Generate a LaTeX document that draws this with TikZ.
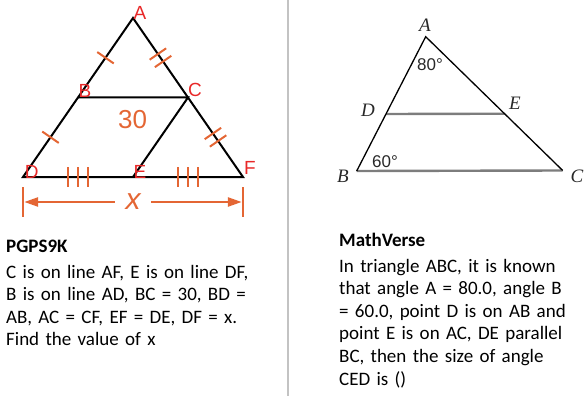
\documentclass[tikz,border=0pt]{standalone}
\usepackage{fontspec}
\setmainfont{Carlito}
\newfontfamily\figsans{Liberation Sans}
\newfontfamily\figserif{Liberation Serif}
\usepackage{xcolor}
\usepackage{tikz}
\usetikzlibrary{arrows.meta, positioning, calc}
\definecolor{GeoRed}{RGB}{232, 40, 40}
\definecolor{GeoOrange}{RGB}{228, 102, 52}
\definecolor{GeoGray}{RGB}{125, 125, 125}
\definecolor{GeoRule}{RGB}{195, 195, 195}
\definecolor{GeoInk}{RGB}{40, 40, 40}
\tikzset{
  vlabel/.style={inner sep=0pt, text=GeoRed, font=\figsans\fontsize{19}{19}\selectfont},
  plabel/.style={inner sep=0pt, text=GeoInk, font=\figserif\itshape\fontsize{19}{19}\selectfont},
  anglelabel/.style={inner sep=0pt, text=GeoInk, font=\figsans\fontsize{17}{17}\selectfont},
  hashmark/.style={draw=GeoOrange, line width=2pt},
  edgeline/.style={draw=black, line width=2pt},
  thinedge/.style={draw=black, line width=1.3pt},
  paraline/.style={draw=GeoGray, line width=2.4pt},
  dimarrow/.style={draw=GeoOrange, line width=2.5pt, -{Triangle[length=14pt, width=9pt]}},
  caption/.style={inner sep=0pt, anchor=base west, align=left, text width=280pt,
                  font=\fontsize{19}{22.6}\selectfont},
}

\begin{document}
\begin{tikzpicture}[x=1pt, y=-1pt]
    \useasboundingbox (0,0) rectangle (587,396);

    % PGPS9K figure
    \coordinate (A) at (133,18);
    \coordinate (D) at (23,177);
    \coordinate (F) at (243,177);
    \coordinate (B) at ($(A)!0.5!(D)$);
    \coordinate (C) at ($(A)!0.5!(F)$);
    \coordinate (E) at ($(D)!0.5!(F)$);

    \draw[edgeline] (A) -- (D) -- (F) -- cycle;
    \draw[edgeline] (B) -- (C) -- (E);

    \coordinate (mAB) at ($(A)!0.5!(B)$);
    \coordinate (mBD) at ($(B)!0.5!(D)$);
    \draw[hashmark] ($(mAB)!10pt!90:(A)$) -- ($(mAB)!10pt!-90:(A)$);
    \draw[hashmark] ($(mBD)!10pt!90:(B)$) -- ($(mBD)!10pt!-90:(B)$);
    \path (A) -- (C) coordinate[pos=0.453] (tAC1) coordinate[pos=0.547] (tAC2);
    \path (C) -- (F) coordinate[pos=0.453] (tCF1) coordinate[pos=0.547] (tCF2);
    \foreach \t/\e in {tAC1/C, tAC2/C, tCF1/F, tCF2/F}
      \draw[hashmark] ($(\t)!10pt!90:(\e)$) -- ($(\t)!10pt!-90:(\e)$);
    \coordinate (mDE) at ($(D)!0.5!(E)$);
    \coordinate (mEF) at ($(E)!0.5!(F)$);
    \foreach \dx in {-10,0,10} {
      \draw[hashmark] ($(mDE)+(\dx,-10)$) -- ($(mDE)+(\dx,10)$);
      \draw[hashmark] ($(mEF)+(\dx,-10)$) -- ($(mEF)+(\dx,10)$);
    }

    \node[vlabel] (labA) at (140,12.7) {A};
    \node[vlabel] (labB) at (85,90.7) {B};
    \node[vlabel] (labC) at (195,90) {C};
    \node[vlabel] (labD) at (31.7,171.7) {D};
    \node[vlabel] (labE) at (140,171.7) {E};
    \node[vlabel] (labF) at (250,168) {F};
    \node[inner sep=0pt, text=GeoOrange, font=\figsans\fontsize{26}{26}\selectfont] (lenBC) at (132.7,120) {30};

    \draw[draw=GeoOrange, line width=2pt] ($(D)+(0,10)$) -- ($(D)+(0,40)$);
    \draw[draw=GeoOrange, line width=2pt] ($(F)+(0,10)$) -- ($(F)+(0,40)$);
    \coordinate (dimL) at ($(D)+(1.2,25)$);
    \coordinate (dimR) at ($(F)+(-1.2,25)$);
    \node[inner sep=0pt, minimum width=36pt, text=GeoOrange,
          font=\figsans\itshape\fontsize{30}{30}\selectfont] (lenDF) at (133,202) {x};
    \draw[dimarrow] (lenDF.west) -- (dimL);
    \draw[dimarrow] (lenDF.east) -- (dimR);

    % separator
    \coordinate (ruleTop) at (288,0);
    \coordinate (ruleBot) at (288,396);
    \draw[draw=GeoRule, line width=2pt] (ruleTop) -- (ruleBot);

    % MathVerse figure
    \coordinate (rA) at (425.7,36.7);
    \coordinate (rB) at (356.7,171);
    \coordinate (rC) at (562.7,170.5);
    \coordinate (rD) at ($(rA)!0.5756!(rB)$);
    \coordinate (rE) at ($(rA)!0.5756!(rC)$);

    \draw[paraline] (rD) -- (rE);
    \draw[paraline] (rB) -- (rC);
    \draw[thinedge] (rB) -- (rA) -- (rC);

    \node[plabel] (rlabA) at (425,25) {A};
    \node[plabel] (rlabB) at (343,176.7) {B};
    \node[plabel] (rlabC) at (577,176.7) {C};
    \node[plabel] (rlabD) at (368,110) {D};
    \node[plabel] (rlabE) at (515,103) {E};
    \node[anglelabel] (angA) at (430,65) {80°};
    \node[anglelabel] (angB) at (385,161.7) {60°};

    % captions
    \node[caption] (capLeft) at (6,252) {\textbf{PGPS9K}\\[3.5pt]
      C is on line AF, E is on line DF,\\
      B is on line AD, BC = 30, BD =\\
      AB, AC = CF, EF = DE, DF = x.\\
      Find the value of x};
    \node[caption] (capRight) at (339,246) {\textbf{MathVerse}\\[3.5pt]
      In triangle ABC, it is known\\
      that angle A = 80.0, angle B\\
      = 60.0, point D is on AB and\\
      point E is on AC, DE parallel\\
      BC, then the size of angle\\
      CED is ()};
  \end{tikzpicture}
\end{document}
